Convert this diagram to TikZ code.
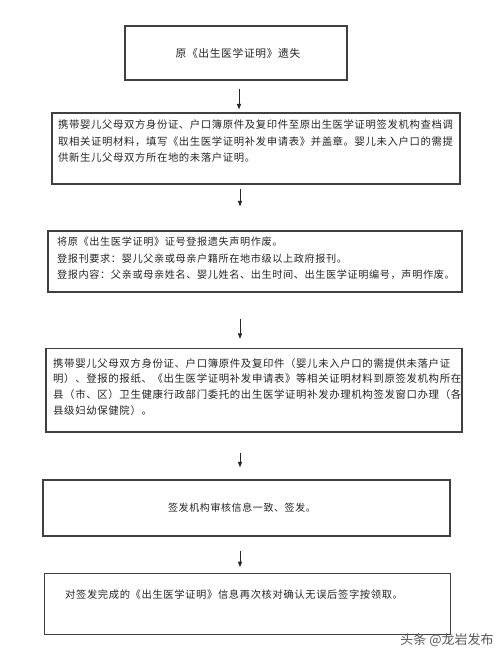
\documentclass[tikz,border=0pt]{standalone}
\usepackage{fontspec}
\newfontfamily\cjk[LetterSpace=6]{Noto Sans CJK SC}
\newfontfamily\cjkw{Noto Sans CJK SC}
\usetikzlibrary{arrows.meta}
\begin{document}
\begin{tikzpicture}[x=1bp,y=-1bp,
  box/.style={draw=black!75,line width=1.1bp,fill=white,inner sep=0pt},
  txt/.style={inner sep=0pt,align=left,text=black!85},
  arr/.style={draw=black!85,line width=0.9bp,-{Triangle[length=5.5bp,width=4bp]}}]
\useasboundingbox[fill=white] (0,0) rectangle (500,657);
% boxes
\node[box,minimum width=222bp,minimum height=54bp] (b1) at (236,53) {};
\node[box,minimum width=408bp,minimum height=71bp] (b2) at (256,148.5) {};
\node[box,minimum width=414bp,minimum height=61bp] (b3) at (255,261.5) {};
\node[box,minimum width=416bp,minimum height=83.5bp] (b4) at (254,390.2) {};
\node[box,minimum width=407bp,minimum height=56bp] (b5) at (246.5,508) {};
\node[box,minimum width=406bp,minimum height=60.5bp] (b6) at (247.5,604) {};
% texts
\node[txt,font={\cjk\fontsize{10.75bp}{16.5bp}\selectfont}] (t1) at (238,53) {原《出生医学证明》遗失};
\node[txt,anchor=north west,font={\cjk\fontsize{10.36bp}{16.5bp}\selectfont}] (t2) at (58,120) {携带婴儿父母双方身份证、户口簿原件及复印件至原出生医学证明签发机构查档调\\取相关证明材料，填写《出生医学证明补发申请表》并盖章。婴儿未入户口的需提\\供新生儿父母双方所在地的未落户证明。};
\node[txt,anchor=north west,font={\cjk\fontsize{10.15bp}{16.5bp}\selectfont}] (t3) at (57,237) {将原《出生医学证明》证号登报遗失声明作废。\\登报刊要求：婴儿父亲或母亲户籍所在地市级以上政府报刊。\\登报内容：父亲或母亲姓名、婴儿姓名、出生时间、出生医学证明编号，声明作废。};
\node[txt,anchor=north west,font={\cjk\fontsize{10.42bp}{15.7bp}\selectfont}] (t4) at (53,358) {携带婴儿父母双方身份证、户口簿原件及复印件（婴儿未入户口的需提供未落户证\\明）、登报的报纸、《出生医学证明补发申请表》等相关证明材料到原签发机构所在\\县（市、区）卫生健康行政部门委托的出生医学证明补发办理机构签发窗口办理（各\\县级妇幼保健院）。};
\node[txt,font={\cjk\fontsize{10bp}{16bp}\selectfont}] (t5) at (242,508) {签发机构审核信息一致、签发。};
\node[txt,anchor=west,font={\cjk\fontsize{10.3bp}{16bp}\selectfont}] (t6) at (65,595) {对签发完成的《出生医学证明》信息再次核对确认无误后签字按领取。};
% arrows
\coordinate (ax) at (240,0);
\coordinate (ax1) at (239,0);
\draw[arr,shorten <=8bp,shorten >=3bp] (b1.south -| ax1) -- (b2.north -| ax1);
\draw[arr,shorten <=4bp,shorten >=24bp] (b2.south -| ax) -- (b3.north -| ax);
\draw[arr,shorten <=26bp,shorten >=9bp] (b3.south -| ax) -- (b4.north -| ax);
\draw[arr,shorten <=20bp,shorten >=12bp] (b4.south -| ax) -- (b5.north -| ax);
\draw[arr,shorten <=14bp,shorten >=6bp] (b5.south -| ax) -- (b6.north -| ax);
% watermark
\node[inner sep=0pt,text=black!65,font={\cjkw\fontsize{13bp}{15bp}\selectfont}] (wm) at (447,640) {头条 @龙岩发布};
\end{tikzpicture}
\end{document}
